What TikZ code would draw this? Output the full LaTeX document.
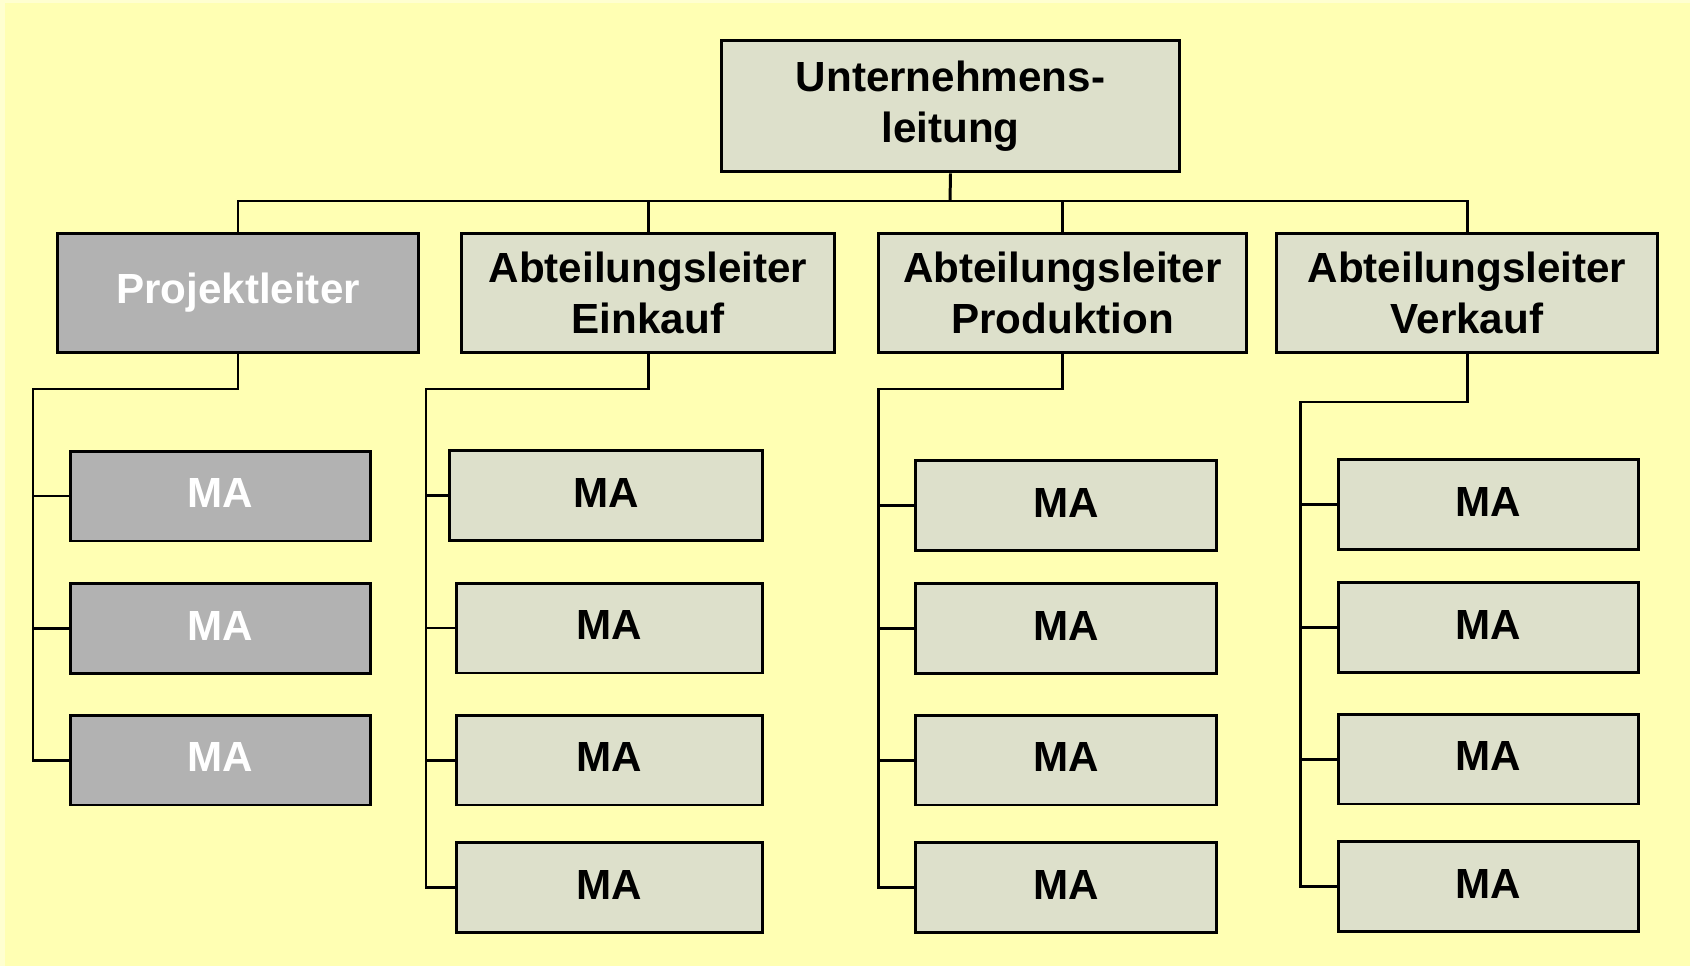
\documentclass[tikz,border=0pt]{standalone}
\usepackage{fontspec}
\setmainfont{Liberation Sans}
\usepackage{tikz}
\usetikzlibrary{positioning,calc}
\definecolor{bg}{RGB}{255,255,179}
\definecolor{bgedge}{RGB}{255,255,208}
\definecolor{olive}{RGB}{221,224,203}
\definecolor{pgray}{RGB}{178,178,178}

\begin{document}
\begin{tikzpicture}[
    x=0.02cm,y=-0.02cm,
    box/.style={rectangle,draw,line width=1.7pt,fill=#1,align=center,
      font=\fontsize{24}{29}\selectfont\bfseries,inner sep=0pt},
    lead/.style={box=olive,minimum height=2.4cm},
    ma/.style={box=olive,minimum width=6.02cm,minimum height=1.8cm,text depth=0.12cm},
    pma/.style={box=pgray,text=white,minimum width=6.02cm,minimum height=1.8cm,text depth=0.12cm},
    ln/.style={line width=1.7pt},
]
% Background
\fill[bgedge] (0,0) rectangle (1690,966);
\fill[bg] (5,3) rectangle (1690,966);
\useasboundingbox (0,0) rectangle (1690,966);

% Top
\node[box=olive,minimum width=9.18cm,minimum height=2.64cm] (ul) at (950.5,106) {Unternehmens-\\leitung};

% Second level
\node[lead,box=pgray,text=white,minimum width=7.24cm] (pl) at (238,293) {Projektleiter};
\node[lead,minimum width=7.48cm] (ein) at (648,293) {Abteilungsleiter\\Einkauf};
\node[lead,minimum width=7.38cm] (pro) at (1062.5,293) {Abteilungsleiter\\Produktion};
\node[lead,minimum width=7.64cm] (ver) at (1467,293) {Abteilungsleiter\\Verkauf};

% Staff of the project lead
\node[pma] (pl1) at (220.5,496) {MA};
\node[pma] (pl2) at (220.5,628.5) {MA};
\node[pma] (pl3) at (220.5,760) {MA};

% Staff Einkauf
\node[ma,minimum width=6.28cm] (ein1) at (606,495.5) {MA};
\node[ma,minimum width=6.14cm] (ein2) at (609.5,628) {MA};
\node[ma,minimum width=6.14cm] (ein3) at (609.5,760) {MA};
\node[ma,minimum width=6.14cm] (ein4) at (609.5,887.5) {MA};

% Staff Produktion
\node[ma] (pro1) at (1066,505.5) {MA};
\node[ma] (pro2) at (1066,628.5) {MA};
\node[ma] (pro3) at (1066,760) {MA};
\node[ma] (pro4) at (1066,887.5) {MA};

% Staff Verkauf
\node[ma] (ver1) at (1488.5,504.5) {MA};
\node[ma] (ver2) at (1488.5,627.5) {MA};
\node[ma] (ver3) at (1488.5,759) {MA};
\node[ma] (ver4) at (1488.5,886.5) {MA};

% Junction points
\coordinate (bus) at (950,201);
\coordinate (plj) at (33,389);
\coordinate (einj) at (426,389);
\coordinate (proj) at (878,389);
\coordinate (verj) at (1300,402);

% Connections
\draw[ln] (ul.south) -- (bus);
\draw[ln] (pl.north) |- (bus) -| (ver.north);
\draw[ln] (ein.north) -- (ein.north |- bus); \draw[ln] (pro.north) -- (pro.north |- bus);

\draw[ln] (pl.south) |- (plj) |- (pl3.west);
\draw[ln] (ein.south) |- (einj) |- (ein4.west);
\draw[ln] (pro.south) |- (proj) |- (pro4.west);
\draw[ln] (ver.south) |- (verj) |- (ver4.west);

\foreach \i in {1,2} \draw[ln] (plj |- pl\i.west) -- (pl\i.west);
\foreach \i in {1,2,3} {
  \draw[ln] (einj |- ein\i.west) -- (ein\i.west);
  \draw[ln] (proj |- pro\i.west) -- (pro\i.west);
  \draw[ln] (verj |- ver\i.west) -- (ver\i.west);
}
\end{tikzpicture}
\end{document}
